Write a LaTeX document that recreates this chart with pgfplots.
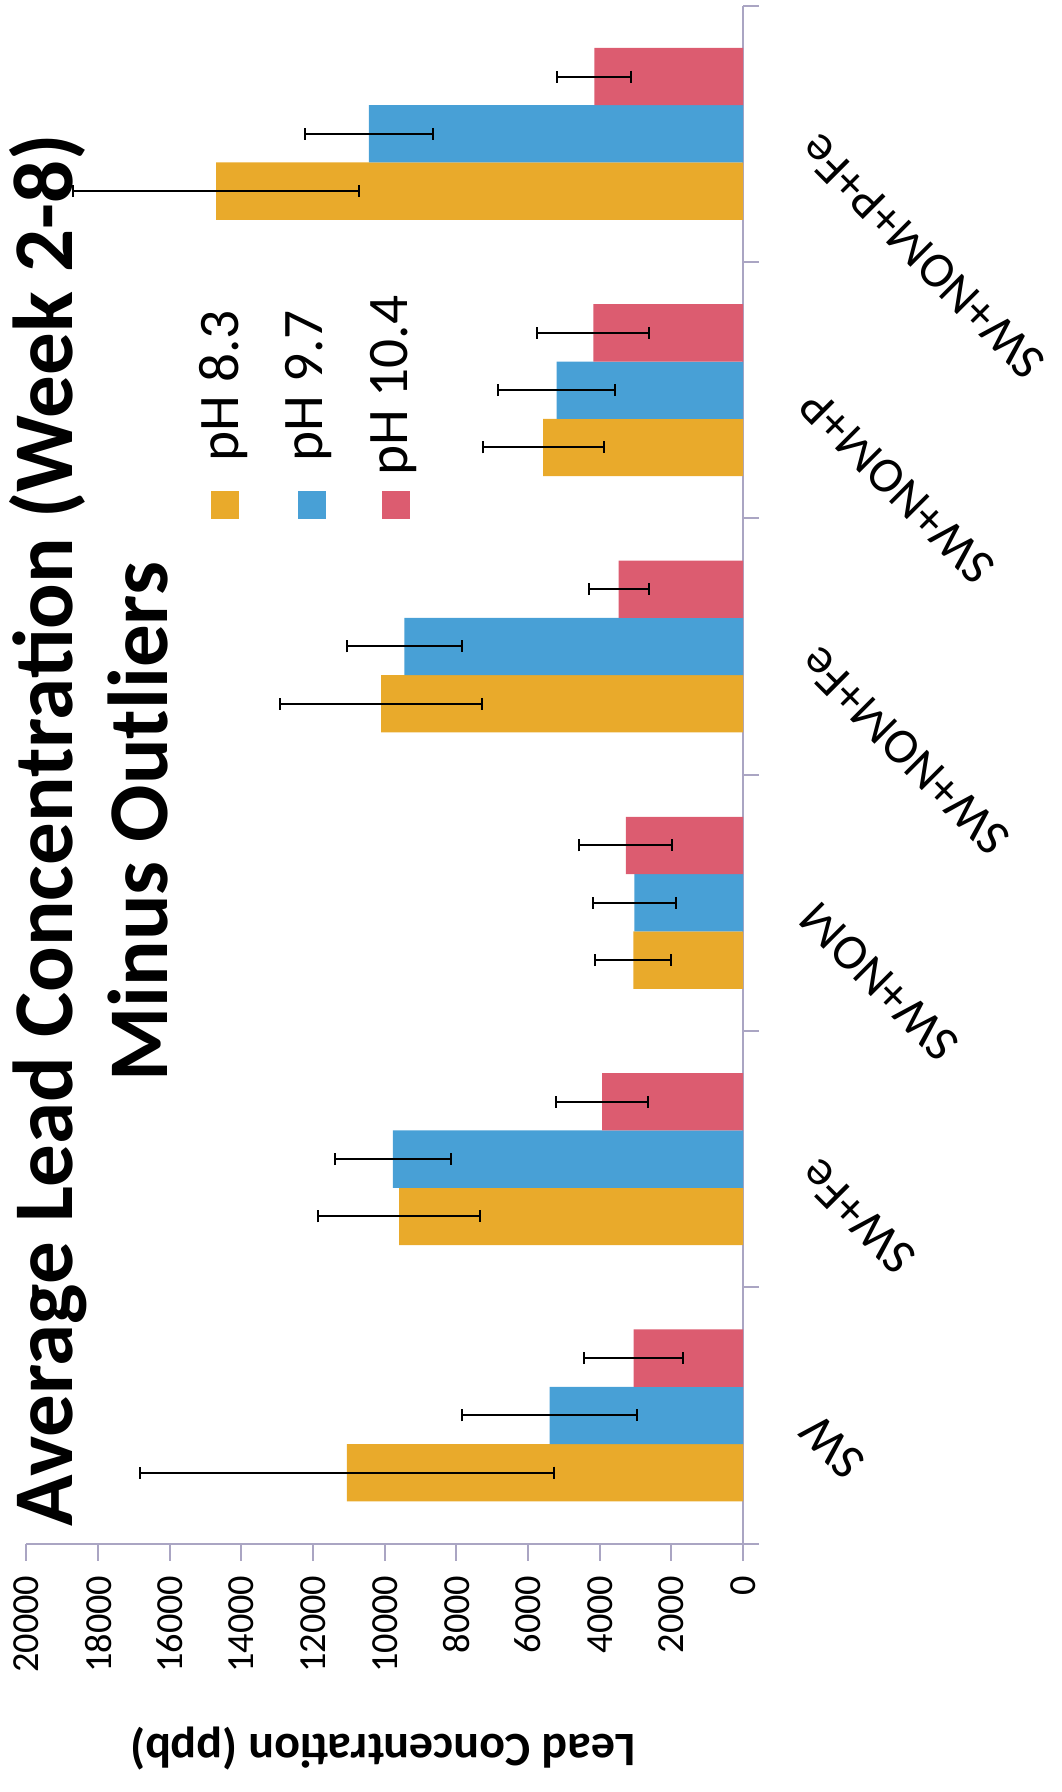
\documentclass[border=0pt]{standalone}
\usepackage{fontspec}
\setmainfont{Carlito}
\usepackage{pgfplots}
\usepackage{pgfplotstable}
\pgfplotsset{compat=1.18}

\definecolor{cOr}{RGB}{233,170,43}
\definecolor{cBl}{RGB}{72,160,214}
\definecolor{cRd}{RGB}{220,92,112}
\definecolor{axc}{RGB}{170,165,195}

\pgfplotstableread{
y x ex
0 11060 5780
1 9600 2250
2 3060 1060
3 10100 2810
4 5580 1690
5 14710 3980
}\dataA
\pgfplotstableread{
y x ex
0 5400 2430
1 9770 1630
2 3030 1160
3 9450 1600
4 5200 1630
5 10440 1790
}\dataB
\pgfplotstableread{
y x ex
0 3050 1380
1 3930 1290
2 3270 1300
3 3470 840
4 4180 1570
5 4150 1030
}\dataC

\begin{document}
\begin{tikzpicture}
\useasboundingbox (0,0) rectangle (318.3pt,537.6pt);
\begin{axis}[
  at={(115.425pt,305.205pt)}, anchor=center,
  scale only axis, width=214.95pt, height=461.37pt,
  xbar, x dir=reverse,
  xmin=0, xmax=20000, ymin=-0.5, ymax=5.5,
  bar width=0.2236,
  axis x line*=bottom, axis y line*=right,
  axis line style={draw=axc, line width=0.6pt},
  xtick={0,2000,...,20000},
  ytick={0,...,5},
  yticklabels={SW,SW+Fe,SW+NOM,SW+NOM+Fe,SW+NOM+P,SW+NOM+P+Fe},
  minor ytick={-0.5,0.5,...,5.5},
  major y tick style={draw=none},
  minor y tick style={draw=axc, line width=0.6pt},
  major x tick style={draw=axc, line width=0.6pt},
  tick align=outside,
  major tick length=5.1pt,
  minor tick length=4.8pt,
  scaled x ticks=false,
  /pgf/number format/assume math mode=true,
  xticklabel={\pgfmathprintnumber[1000 sep={}]{\tick}},
  xticklabel style={rotate=90, anchor=east, font=\fontsize{11.5}{12}\selectfont},
  xticklabel shift=1pt,
  yticklabel style={rotate=135, anchor=east, font=\fontsize{15}{16}\selectfont},
  yticklabel shift=12pt,
  legend columns=3,
  legend style={at={(axis description cs:0.2304,0.6862)}, anchor=south west,
    draw=none, fill=none, inner sep=0pt, font=\fontsize{17.2}{18}\selectfont,
    /tikz/every even column/.append style={column sep=7.5pt}},
  legend image code/.code={\path (0pt,0pt); \fill[#1, overlay] (5.6pt,-30.9pt) rectangle (14pt,-39.3pt);},
  error bars/error mark=|,
  error bars/error bar style={black, line width=0.6pt},
  error bars/error mark options={black, line width=0.6pt, mark size=1.8pt},
]
\addplot[fill=cOr, draw=none, bar shift=-0.2236,
  error bars/.cd, x dir=both, x explicit]
  table[x=x, y=y, x error=ex]{\dataA};
\addlegendentry{\rotatebox{90}{pH 8.3}}
\addplot[fill=cBl, draw=none, bar shift=0,
  error bars/.cd, x dir=both, x explicit]
  table[x=x, y=y, x error=ex]{\dataB};
\addlegendentry{\rotatebox{90}{pH 9.7}}
\addplot[fill=cRd, draw=none, bar shift=0.2236,
  error bars/.cd, x dir=both, x explicit]
  table[x=x, y=y, x error=ex]{\dataC};
\addlegendentry{\rotatebox{90}{pH 10.4}}
\end{axis}
\node[rotate=90, anchor=base, font=\bfseries\fontsize{25.5}{28}\selectfont] at (21.6pt,288.6pt) {Average Lead Concentration (Week 2-8)};
\node[rotate=90, anchor=base, font=\bfseries\fontsize{25.5}{28}\selectfont] at (50.1pt,291pt) {Minus Outliers};
\node[rotate=180, anchor=center, font=\bfseries\fontsize{14.4}{15}\selectfont] at (114.9pt,13pt) {Lead Concentration (ppb)};
\end{tikzpicture}
\end{document}
